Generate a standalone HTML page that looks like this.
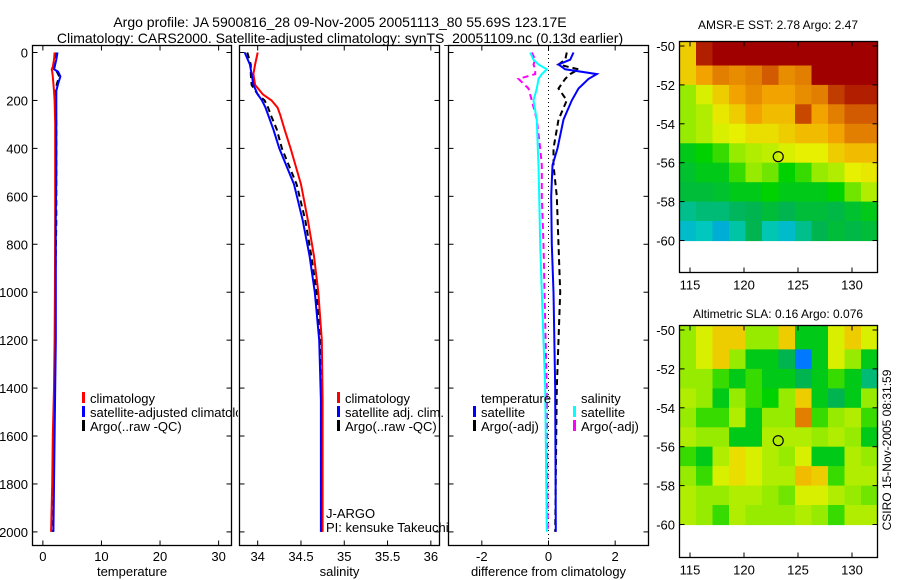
<!DOCTYPE html>
<html><head><meta charset="utf-8"><style>
html,body{margin:0;padding:0;background:#fff;}
svg{display:block;font-family:"Liberation Sans",sans-serif;}
</style></head><body>
<svg id="fig" width="900" height="580" viewBox="0 0 900 580" xmlns="http://www.w3.org/2000/svg">
<defs><clipPath id="c1"><rect x="0" y="0" width="238" height="580"/></clipPath></defs>
<text x="340" y="27" text-anchor="middle" font-size="14">Argo profile: JA 5900816_28 09-Nov-2005 20051113_80 55.69S 123.17E</text>
<text x="340" y="43" text-anchor="middle" font-size="14">Climatology: CARS2000. Satellite-adjusted climatology: synTS_20051109.nc (0.13d earlier)</text>
<text x="778" y="29" text-anchor="middle" font-size="12">AMSR-E SST: 2.78 Argo: 2.47</text>
<text x="778" y="318" text-anchor="middle" font-size="12">Altimetric SLA: 0.16 Argo: 0.076</text>
<text transform="translate(891,450) rotate(-90)" text-anchor="middle" font-size="12">CSIRO 15-Nov-2005 08:31:59</text>
<g id="g"></g>
</svg>
<script>
// ---- profile data ----
const tDepth=[0,30,60,70,80,100,130,160,200,300,500,700,1000,1200,1400,1600,1800,2000];
const tClim=[2.0,1.9,1.7,1.5,1.6,1.7,1.8,1.9,2.0,2.1,2.1,2.1,2.05,2.0,1.9,1.7,1.6,1.4];
const tSat=[2.5,2.3,2.0,1.9,2.6,3.0,2.6,2.3,2.3,2.3,2.3,2.2,2.2,2.2,2.1,2.0,1.9,1.8];
const tArgo=[2.3,2.2,2.0,1.9,2.4,2.8,2.4,2.2,2.2,2.3,2.3,2.3,2.1,2.1,2.0,1.9,1.8,1.7];
const sDepth=[0,50,90,135,175,200,230,260,320,400,550,700,850,1000,1200,1450,2000];
const sClim=[34.0,33.97,33.95,33.97,34.06,34.16,34.23,34.26,34.31,34.38,34.50,34.58,34.65,34.70,34.74,34.75,34.75];
const sSat=[33.85,33.91,33.93,33.95,34.0,34.05,34.09,34.12,34.18,34.25,34.42,34.52,34.60,34.66,34.71,34.73,34.73];
const sArgo=[33.88,33.92,33.92,33.93,34.0,34.08,34.12,34.15,34.22,34.28,34.45,34.55,34.62,34.68,34.72,34.74,34.74];
const dDepth=[0,30,50,70,90,110,150,200,280,400,470,600,800,1000,1400,2000];
const dTsat=[0.75,0.65,0.3,0.5,1.45,1.2,0.9,0.7,0.45,0.27,0.12,0.08,0.1,0.15,0.2,0.22];
const dTargo=[0.55,0.5,0.3,0.9,0.65,0.5,0.3,0.55,0.3,0.15,0.15,0.25,0.3,0.35,0.25,0.2];
const dSsat=[-0.55,-0.45,-0.3,-0.05,-0.2,-0.3,-0.35,-0.45,-0.35,-0.32,-0.3,-0.28,-0.25,-0.2,-0.1,-0.05];
const dSargo=[-0.5,-0.4,-0.45,-0.4,-0.4,-0.9,-0.6,-0.5,-0.35,-0.25,-0.2,-0.2,-0.15,-0.12,-0.05,-0.02];
const depthTicks=[0,200,400,600,800,1000,1200,1400,1600,1800,2000];
const tTicks=[0,10,20,30];
const sTicks=[34,34.5,35,35.5,36];
const dTicks=[-2,0,2];
// ---- map data (rows -50..-60, 12 lon columns) ----
const sstGrid=[
[0.7,0.95,1,1,1,1,1,1,1,1,1,1],
[0.7,0.75,0.8,0.78,0.8,0.85,0.78,0.8,1,1,1,1],
[0.6,0.65,0.7,0.75,0.78,0.75,0.75,0.78,0.8,0.9,0.95,0.95],
[0.6,0.62,0.67,0.7,0.75,0.72,0.72,0.88,0.75,0.8,0.85,0.85],
[0.6,0.62,0.65,0.66,0.68,0.68,0.7,0.72,0.72,0.75,0.8,0.8],
[0.5,0.52,0.55,0.6,0.62,0.63,0.65,0.66,0.66,0.7,0.72,0.72],
[0.48,0.5,0.5,0.55,0.6,0.58,0.52,0.55,0.6,0.62,0.66,0.67],
[0.47,0.47,0.48,0.5,0.5,0.52,0.5,0.5,0.5,0.52,0.58,0.62],
[0.4,0.42,0.42,0.44,0.45,0.47,0.45,0.47,0.47,0.46,0.48,0.5],
[0.35,0.36,0.34,0.38,0.45,0.37,0.35,0.4,0.45,0.47,0.46,0.47]];
const slaGrid=[
[.6,.65,.7,.7,.6,.6,.7,.5,.5,.65,.7,.65],
[.6,.65,.7,.6,.5,.5,.45,.3,.5,.65,.6,.5],
[.6,.6,.55,.5,.55,.5,.5,.45,.5,.55,.5,.42],
[.62,.6,.5,.6,.55,.52,.6,.7,.5,.45,.5,.6],
[.6,.55,.55,.62,.5,.6,.6,.8,.55,.6,.62,.55],
[.62,.6,.6,.5,.5,.62,.62,.62,.6,.62,.6,.5],
[.55,.5,.62,.68,.65,.62,.6,.65,.5,.5,.62,.6],
[.6,.55,.65,.68,.65,.62,.62,.72,.7,.55,.62,.62],
[.62,.6,.6,.62,.62,.6,.58,.65,.65,.62,.6,.58],
[.62,.6,.55,.62,.6,.6,.6,.62,.6,.55,.62,.62]];
const latTicks=[-50,-52,-54,-56,-58,-60];
const lonTicks=[115,120,125,130];
const argoLon=123.17, argoLat=-55.69;

const NS='http://www.w3.org/2000/svg';
const G=document.getElementById('g');
function mk(tag,attrs,parent,txt){const e=document.createElementNS(NS,tag);for(const k in attrs)e.setAttribute(k,attrs[k]);if(txt!==undefined)e.textContent=txt;(parent||G).appendChild(e);return e;}
const Y0=52.5,YK=0.2397;
const yD=d=>Y0+d*YK;
const panels=[
 {x0:32.5,x1:231.5,vmin:-1.77,vmax:32.2,ticks:tTicks,lab:'temperature',name:'temperature'},
 {x0:239.5,x1:439.5,vmin:33.79,vmax:36.1,ticks:sTicks,lab:'salinity',name:'salinity'},
 {x0:448.5,x1:648.5,vmin:-3,vmax:3,ticks:dTicks,lab:'difference from climatology',name:'difference'}];
panels.forEach((p,i)=>{
 p.fx=v=>p.x0+(v-p.vmin)/(p.vmax-p.vmin)*(p.x1-p.x0);
 const r=mk('rect',{x:p.x0,y:45.5,width:p.x1-p.x0,height:500,fill:'none',stroke:'#000','stroke-width':1.3});
 
 
 p.ticks.forEach(t=>{const x=p.fx(t);
  mk('line',{x1:x,x2:x,y1:45.5,y2:50.5,stroke:'#000'});mk('line',{x1:x,x2:x,y1:545.5,y2:540.5,stroke:'#000'});
  const tl=mk('text',{x:x,y:561,'text-anchor':'middle','font-size':13},G,String(t));
  
  });
 depthTicks.forEach(d=>{const y=yD(d);
  mk('line',{x1:p.x0,x2:p.x0+5,y1:y,y2:y,stroke:'#000'});mk('line',{x1:p.x1,x2:p.x1-5,y1:y,y2:y,stroke:'#000'});
  if(i===0){const tl=mk('text',{x:28,y:y+5,'text-anchor':'end','font-size':13},G,String(d));
   
   }});
 const al=mk('text',{x:(p.x0+p.x1)/2,y:576,'text-anchor':'middle','font-size':13},G,p.lab);
 
 
});
function line(p,vals,deps,color,dash,name,w){
 const pts=vals.map((v,k)=>p.fx(v).toFixed(1)+','+yD(deps[k]).toFixed(1)).join(' ');
 const e=mk('polyline',{points:pts,fill:'none',stroke:color,'stroke-width':w||2});
 if(dash)e.setAttribute('stroke-dasharray',dash);
 
 
}
const P=panels;
line(P[0],tArgo,tDepth,'#000','6 4','temp-argo-line');
line(P[0],tClim,tDepth,'#f00',null,'temp-climatology-line');
line(P[0],tSat,tDepth,'#00f',null,'temp-satellite-line');
line(P[1],sArgo,sDepth,'#000','6 4','sal-argo-line');
line(P[1],sClim,sDepth,'#f00',null,'sal-climatology-line');
line(P[1],sSat,sDepth,'#00f',null,'sal-satellite-line');
const zl=mk('line',{x1:P[2].fx(0),x2:P[2].fx(0),y1:46,y2:545,stroke:'#000','stroke-dasharray':'1 3'});


line(P[2],dTargo,dDepth,'#000','6 4','diff-temp-argo-line');
line(P[2],dSargo,dDepth,'#f0f','6 4','diff-sal-argo-line');
line(P[2],dSsat,dDepth,'#0ff',null,'diff-sal-satellite-line');
line(P[2],dTsat,dDepth,'#00f',null,'diff-temp-satellite-line');
// legends
function leg(x,y,color,txt,name,clip){
 const g=mk('g',{});if(clip)g.setAttribute('clip-path','url(#c1)');
 
 
 if(color)mk('rect',{x:x,y:y-11,width:3,height:11,fill:color},g);
 mk('text',{x:x+8,y:y,'font-size':13},g,txt);
}
leg(82,403,'#f00','climatology','temp-legend-climatology',true);
leg(82,417,'#00f','satellite-adjusted climatology','temp-legend-satellite',true);
leg(82,431,'#000','Argo(..raw -QC)','temp-legend-argo',true);
leg(337,403,'#f00','climatology','sal-legend-climatology');
leg(337,417,'#00f','satellite adj. clim.','sal-legend-satellite');
leg(337,431,'#000','Argo(..raw -QC)','sal-legend-argo');
leg(473,403,null,'temperature','diff-legend-temp-header');
leg(573,403,null,'salinity','diff-legend-sal-header');
leg(473,417,'#00f','satellite','diff-legend-temp-satellite');
leg(473,431,'#000','Argo(-adj)','diff-legend-temp-argo');
leg(573,417,'#0ff','satellite','diff-legend-sal-satellite');
leg(573,431,'#f0f','Argo(-adj)','diff-legend-sal-argo');
const j1=mk('text',{x:326,y:518,'font-size':13},G,'J-ARGO');


const j2=mk('text',{x:326,y:532,'font-size':13},G,'PI: kensuke Takeuchi');


// maps
function cmap(v){
 const st=[[0,[0,0,200]],[0.3,[0,120,255]],[0.36,[0,200,190]],[0.45,[0,180,80]],[0.52,[0,210,0]],[0.6,[150,235,0]],[0.66,[230,240,0]],[0.74,[245,170,0]],[0.85,[210,90,0]],[1,[160,0,0]]];
 for(let i=1;i<st.length;i++){if(v<=st[i][0]){const a=st[i-1],b=st[i],f=(v-a[0])/(b[0]-a[0]);
  return 'rgb('+a[1].map((c,k)=>Math.round(c+(b[1][k]-c)*f)).join(',')+')';}}
 return 'rgb(160,0,0)';
}
function map(top,bottom,grid,name){
 const x0=679.5,x1=877.5,lat0=top+4.5,LK=19.45;
 const lonX=l=>690+(l-115)*10.8, latY=l=>lat0+(-50-l)*LK;
 const cw=(x1-x0)/grid[0].length;
 grid.forEach((row,r)=>row.forEach((v,c)=>{
  const e=mk('rect',{x:(x0+c*cw).toFixed(1),y:(latY(-50-r)-(r===0?4:0)).toFixed(1),width:(cw+0.6).toFixed(1),height:(LK+0.6+(r===0?4:0)).toFixed(1),fill:cmap(v)});
  
  }));
 const fr=mk('rect',{x:x0,y:top,width:x1-x0,height:bottom-top,fill:'none',stroke:'#000','stroke-width':1.3});
 
 
 latTicks.forEach(l=>{const y=latY(l);
  mk('line',{x1:x0,x2:x0+5,y1:y,y2:y,stroke:'#000'});mk('line',{x1:x1,x2:x1-5,y1:y,y2:y,stroke:'#000'});
  const t=mk('text',{x:675,y:y+5,'text-anchor':'end','font-size':13},G,String(l));
  
  });
 lonTicks.forEach(l=>{const x=lonX(l);
  mk('line',{x1:x,x2:x,y1:top,y2:top+5,stroke:'#000'});mk('line',{x1:x,x2:x,y1:bottom,y2:bottom-5,stroke:'#000'});
  const t=mk('text',{x:x,y:bottom+17,'text-anchor':'middle','font-size':13},G,String(l));
  
  });
 const m=mk('circle',{cx:lonX(argoLon),cy:latY(argoLat),r:5,fill:'none',stroke:'#000','stroke-width':1.2});
 
 
}
map(41.5,272.5,sstGrid,'sst-map');
map(325.5,557.5,slaGrid,'sla-map');
</script>
</body></html>
